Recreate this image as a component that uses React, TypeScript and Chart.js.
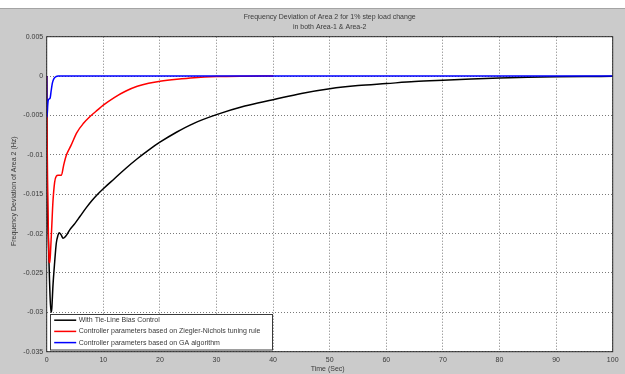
import React, { useEffect, useRef } from "react";
import { Chart, registerables } from "chart.js";

Chart.register(...registerables);

// ---------- text ----------
const titleLines = [
  "Frequency Deviation of Area 2 for 1% step load change",
  "in both Area-1 & Area-2",
];
const xAxisTitle = "Time (Sec)";
const yAxisTitle = "Frequency Deviation of Area 2 (Hz)";
const seriesNames = [
  "With Tie-Line Bias Control",
  "Controller parameters based on Ziegler-Nichols tuning rule",
  "Controller parameters based on GA algorithm",
];
const seriesColors = ["#000000", "#ff0000", "#0000ff"];

// ---------- ticks ----------
const xTickValues = [0, 10, 20, 30, 40, 50, 60, 70, 80, 90, 100];
const yTickValues = [-0.035, -0.03, -0.025, -0.02, -0.015, -0.01, -0.005, 0, 0.005];
const yTickLabels = ["-0.035", "-0.03", "-0.025", "-0.02", "-0.015", "-0.01", "-0.005", "0", "0.005"];

// ---------- data ----------
const tBlack = [0, 0.05, 0.1, 0.3, 0.5, 0.75, 0.9, 1.1, 1.4, 1.7, 2.0, 2.2, 2.5, 2.9, 3.5, 4.1, 5.0, 5.9, 7, 8, 9, 10, 12, 14, 16, 18, 20, 23, 26, 30, 35, 40, 45, 50, 55, 60, 65, 70, 75, 80, 85, 90, 95, 100];
const vBlack = [0, -0.008, -0.0145, -0.021, -0.026, -0.030, -0.0295, -0.0267, -0.0237, -0.0212, -0.0202, -0.0199, -0.0201, -0.0206, -0.0202, -0.0195, -0.0187, -0.0178, -0.0167, -0.0158, -0.0150, -0.0143, -0.0130, -0.0117, -0.0105, -0.0094, -0.0084, -0.0071, -0.0060, -0.0049, -0.0038, -0.0030, -0.0022, -0.0016, -0.0012, -0.00095, -0.0007, -0.00053, -0.00038, -0.00025, -0.00016, -0.0001, -0.00006, -0.00003];

const tRed = [0, 0.05, 0.15, 0.3, 0.45, 0.55, 0.7, 0.9, 1.1, 1.4, 1.7, 2.0, 2.6, 3.0, 3.5, 4.3, 5.3, 6.5, 7.7, 9, 10, 12, 14, 16, 18, 20, 23, 26, 30, 35, 40];
const vRed = [0, -0.006, -0.013, -0.020, -0.0236, -0.0237, -0.022, -0.019, -0.016, -0.0135, -0.0127, -0.0126, -0.0126, -0.0113, -0.0100, -0.0088, -0.0072, -0.0060, -0.0051, -0.0043, -0.0037, -0.0027, -0.0019, -0.0013, -0.0009, -0.00066, -0.0004, -0.0002, -0.00006, -0.00001, 0];

const tBlue = [0, 0.05, 0.2, 0.3, 0.6, 0.8, 1.0, 1.3, 1.7, 2.0, 5, 10, 20, 40, 60, 80, 100];
const vBlue = [0, -0.0052, -0.0035, -0.003, -0.0028, -0.0018, -0.0009, -0.0003, -0.00005, 0, 0, 0, 0, 0, 0, 0, 0];

const FONT = '"Liberation Sans", Arial, sans-serif';
const TEXT = "#3a3a3a";

const toPoints = (t: number[], v: number[]) => t.map((x, i) => ({ x, y: v[i] }));

const matlabPlugin = {
  id: "matlabLook",
  beforeDraw(chart: any) {
    const { ctx, width, height, chartArea: a } = chart;
    ctx.save();
    ctx.fillStyle = "#ffffff";
    ctx.fillRect(0, 0, width, height);
    ctx.fillStyle = "#cbcbcb";
    ctx.fillRect(0, 8, width, height - 8);
    ctx.fillStyle = "#a4a4a4";
    ctx.fillRect(0, 8, width, 1);
    ctx.fillStyle = "#ffffff";
    ctx.fillRect(a.left, a.top, a.right - a.left, a.bottom - a.top);
    ctx.restore();
  },
  afterDraw(chart: any) {
    const { ctx, chartArea: a } = chart;
    ctx.save();
    // frame
    ctx.strokeStyle = "#2a2a2a";
    ctx.lineWidth = 1;
    ctx.strokeRect(a.left, a.top, a.right - a.left, a.bottom - a.top);

    // title
    const cx = (a.left + a.right) / 2;
    ctx.fillStyle = TEXT;
    ctx.font = `7px ${FONT}`;
    ctx.textAlign = "center";
    ctx.textBaseline = "middle";
    ctx.fillText(titleLines[0], cx, 17.5);
    ctx.fillText(titleLines[1], cx, 27);

    // x axis title
    ctx.fillText(xAxisTitle, cx - 2, 369);

    // y axis title
    ctx.save();
    ctx.translate(14, (a.top + a.bottom) / 2 - 3);
    ctx.rotate(-Math.PI / 2);
    ctx.fillText(yAxisTitle, 0, 0);
    ctx.restore();

    // legend
    const lx = a.left + 3.5;
    const lw = 222;
    const lh = 35.5;
    const ly = a.bottom - 2 - lh;
    ctx.fillStyle = "#ffffff";
    ctx.fillRect(lx, ly, lw, lh);
    ctx.strokeStyle = "#3a3a3a";
    ctx.strokeRect(Math.round(lx) + 0.5, Math.round(ly) + 0.5, lw, lh);
    ctx.textAlign = "left";
    ctx.font = `7px ${FONT}`;
    seriesNames.forEach((name, i) => {
      const yy = ly + 6 + i * 11.2;
      ctx.strokeStyle = seriesColors[i];
      ctx.lineWidth = 1.5;
      ctx.beginPath();
      ctx.moveTo(lx + 4, yy);
      ctx.lineTo(lx + 26, yy);
      ctx.stroke();
      ctx.fillStyle = TEXT;
      ctx.fillText(name, lx + 28.5, yy);
    });
    ctx.restore();
  },
};

export default function App() {
  const canvasRef = useRef<HTMLCanvasElement | null>(null);

  useEffect(() => {
    document.body.style.margin = "0";
    const canvas = canvasRef.current;
    if (!canvas) return;
    const mk = (i: number, t: number[], v: number[], order: number) => ({
      label: seriesNames[i],
      data: toPoints(t, v),
      borderColor: seriesColors[i],
      backgroundColor: seriesColors[i],
      borderWidth: 1.5,
      pointRadius: 0,
      fill: false,
      cubicInterpolationMode: "monotone" as const,
      order,
    });
    const chart = new Chart(canvas, {
      type: "line",
      data: {
        datasets: [
          mk(0, tBlack, vBlack, 3),
          mk(1, tRed, vRed, 2),
          mk(2, tBlue, vBlue, 1),
        ],
      },
      options: {
        responsive: false,
        animation: false,
        devicePixelRatio: 1,
        layout: { padding: { top: 36.7, right: 12.3, left: 0, bottom: 0 } },
        plugins: {
          legend: { display: false },
          title: { display: false },
          tooltip: { enabled: false },
        },
        scales: {
          x: {
            type: "linear",
            min: 0,
            max: 100,
            afterBuildTicks: (scale: any) => {
              scale.ticks = xTickValues.map((v) => ({ value: v }));
            },
            afterFit: (scale: any) => {
              scale.height = 22.3;
            },
            ticks: {
              color: TEXT,
              font: { family: FONT, size: 7 },
              padding: 4,
              maxRotation: 0,
              autoSkip: false,
              callback: (v: any) => String(v),
            },
            grid: { color: "#7a7a7a", lineWidth: 1, drawTicks: false },
            border: { display: false, dash: [1, 2] },
          },
          y: {
            type: "linear",
            min: -0.035,
            max: 0.005,
            afterBuildTicks: (scale: any) => {
              scale.ticks = yTickValues.map((v) => ({ value: v }));
            },
            afterFit: (scale: any) => {
              scale.width = 46.7;
            },
            ticks: {
              color: TEXT,
              font: { family: FONT, size: 7 },
              padding: 3.5,
              autoSkip: false,
              callback: (_v: any, i: number) => yTickLabels[i],
            },
            grid: { color: "#7a7a7a", lineWidth: 1, drawTicks: false },
            border: { display: false, dash: [1, 2] },
          },
        },
      },
      plugins: [matlabPlugin],
    } as any);
    return () => chart.destroy();
  }, []);

  return (
    <div style={{ width: 625, height: 374, margin: 0, padding: 0 }}>
      <canvas ref={canvasRef} width={625} height={374} style={{ display: "block", width: 625, height: 374 }} />
    </div>
  );
}
